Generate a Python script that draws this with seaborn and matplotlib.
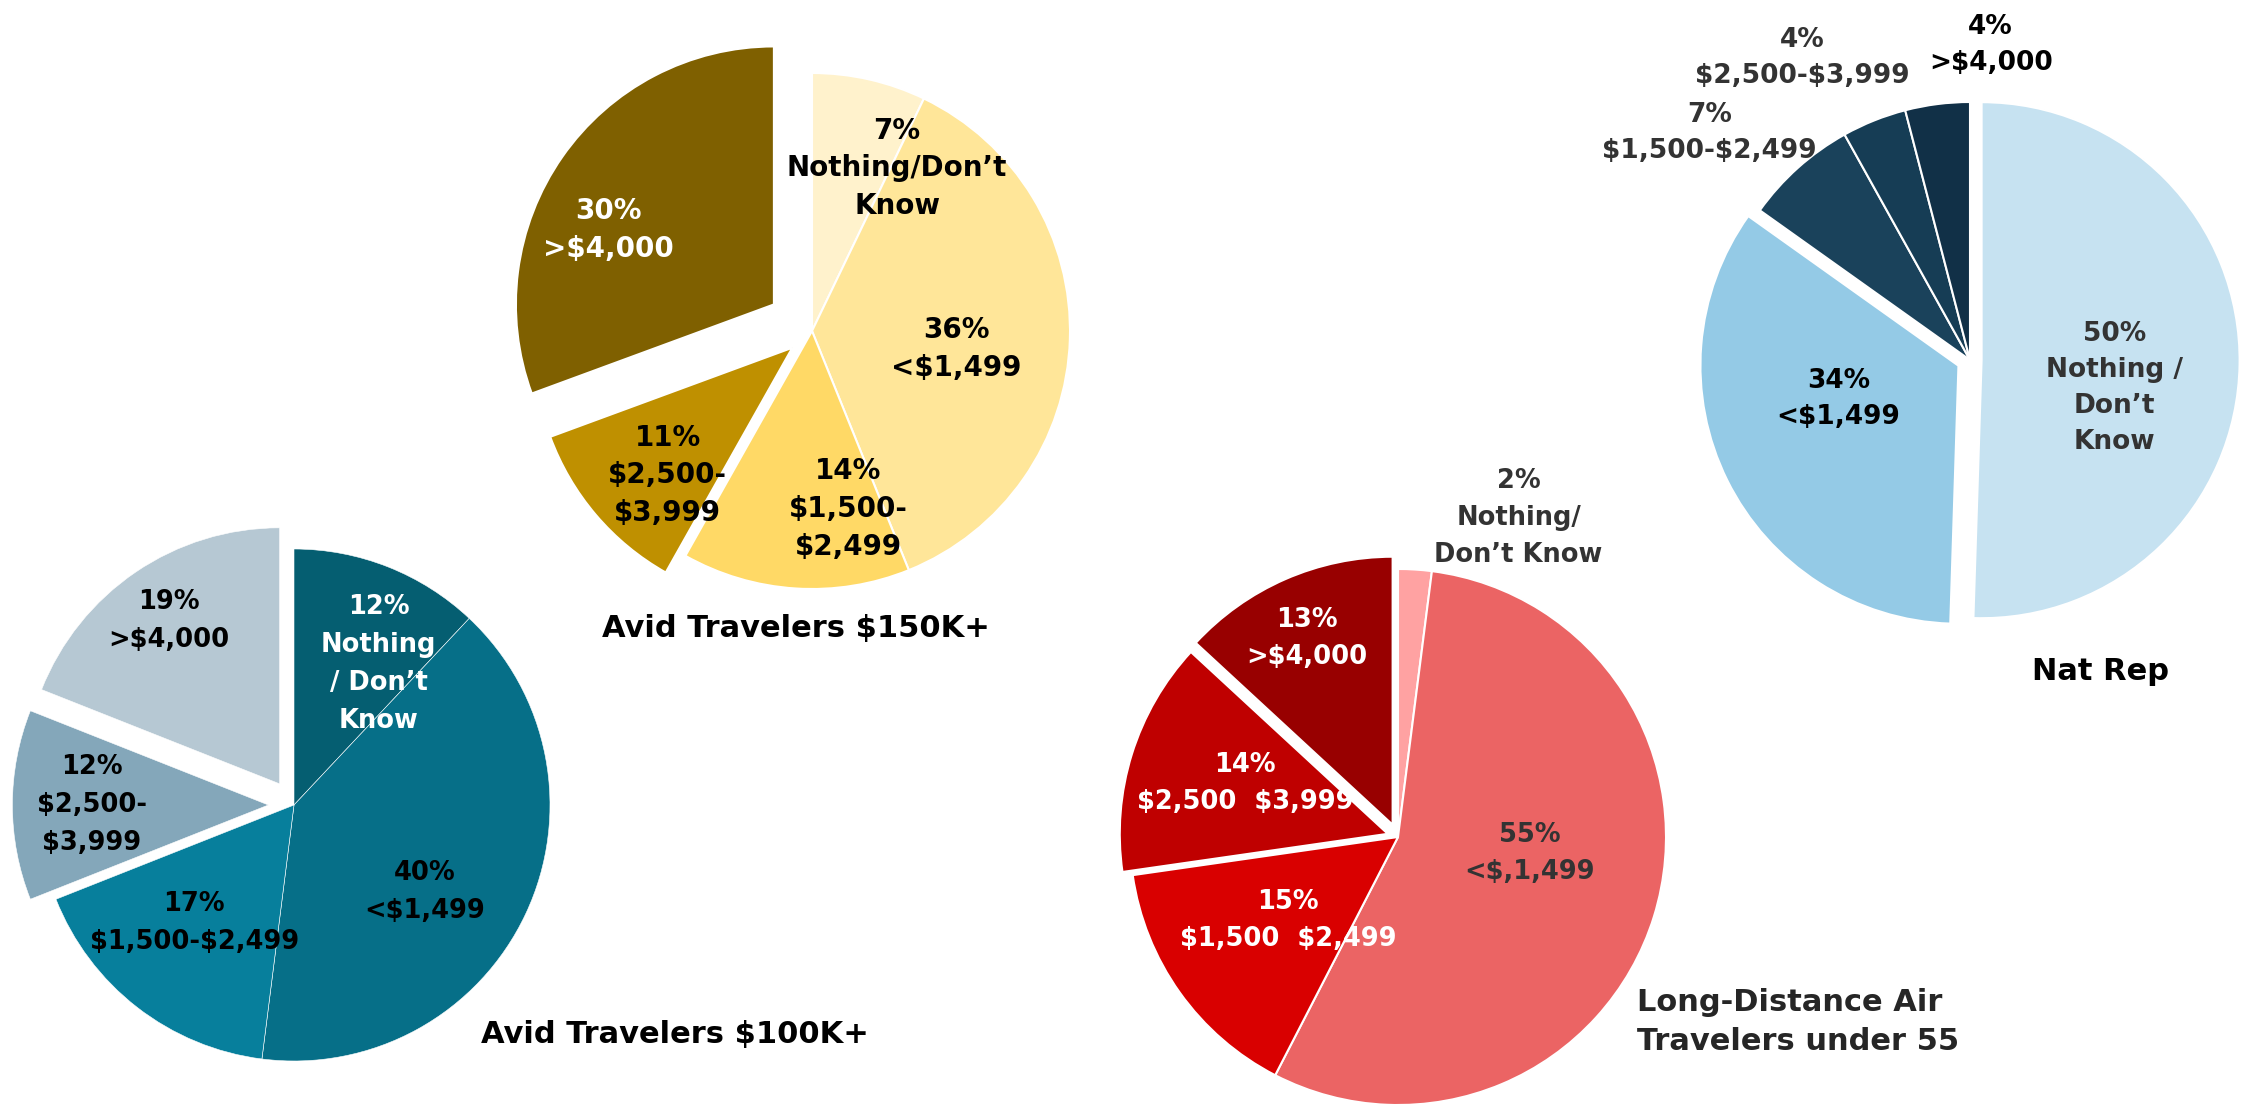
import seaborn as sns
import matplotlib.pyplot as plt

# ---- data (slices listed clockwise from 12 o'clock) ----
avid150_values = [7, 36, 14, 11, 30]
avid150_labels = ["7%\nNothing/Don\u2019t\nKnow", "36%\n<$1,499", "14%\n$1,500-\n$2,499",
                  "11%\n$2,500-\n$3,999", "30%\n>$4,000"]

avid100_values = [12, 40, 17, 12, 19]
avid100_labels = ["12%\nNothing\n/ Don\u2019t\nKnow", "40%\n<$1,499", "17%\n$1,500-$2,499",
                  "12%\n$2,500-\n$3,999", "19%\n>$4,000"]

air55_values = [2, 55, 15, 14, 13]
air55_labels = ["2%\nNothing/\nDon\u2019t Know", "55%\n<$,1,499", "15%\n$1,500  $2,499",
                "14%\n$2,500  $3,999", "13%\n>$4,000"]

natrep_values = [50, 34, 7, 4, 4]
natrep_labels = ["50%\nNothing /\nDon\u2019t\nKnow", "34%\n<$1,499", "7%\n$1,500-$2,499",
                 "4%\n$2,500-$3,999", "4%\n>$4,000"]

# ---- styling / layout (pixel coordinates, y from top) ----
W, H = 2247, 1105
pies = [
    dict(values=avid150_values, labels=avid150_labels, title="Avid Travelers $150K+",
         center=(812, 331), r=258, explode=[0, 0, 0, 0.10, 0.18],
         colors=["#FFF2CC", "#FFE699", "#FFD966", "#BF9000", "#7F6000"],
         tcolors=["black", "black", "black", "black", "white"],
         offsets=[(0.33, 0.63), (0.56, -0.07), (0.14, -0.69), (-0.56, -0.56), (-0.79, 0.39)],
         fs=20, ls=1.45, title_pos=(796, 629), title_ha="center", title_color="black", lw=1.5),
    dict(values=avid100_values, labels=avid100_labels, title="Avid Travelers $100K+",
         center=(294, 805), r=256, explode=[0, 0, 0, 0.10, 0.10],
         colors=["#055E71", "#066F88", "#077F9C", "#84A7BA", "#B6C8D3"],
         tcolors=["white", "black", "black", "black", "black"],
         offsets=[(0.33, 0.55), (0.51, -0.34), (-0.39, -0.46), (-0.79, 0.0), (-0.49, 0.72)],
         fs=18.5, ls=1.6, title_pos=(675, 1034), title_ha="center", title_color="black", lw=0.4),
    dict(values=air55_values, labels=air55_labels, title="Long-Distance Air\nTravelers under 55",
         center=(1398, 837), r=268, explode=[0, 0, 0, 0.04, 0.05],
         colors=["#FFA2A2", "#EB6464", "#D90000", "#BF0000", "#980000"],
         tcolors=["#333333", "#333333", "white", "white", "white"],
         offsets=[(0.45, 1.19), (0.49, -0.06), (-0.41, -0.31), (-0.57, 0.20), (-0.34, 0.74)],
         fs=18.5, ls=1.55, title_pos=(1637, 1022), title_ha="left", title_color="#262626", lw=1.5),
    dict(values=natrep_values, labels=natrep_labels, title="Nat Rep",
         center=(1970, 360), r=258, explode=[0.045, 0.05, 0, 0, 0],
         colors=["#C6E2F1", "#94CAE6", "#1A425B", "#163D55", "#113047"],
         tcolors=["#333333", "black", "#333333", "#333333", "black"],
         offsets=[(0.56, -0.11), (-0.51, -0.15), (-1.01, 0.88), (-0.65, 1.17), (0.08, 1.22)],
         fs=19, ls=1.5, title_pos=(2101, 672), title_ha="center", title_color="black", lw=1.5),
]

sns.set_theme(style="white")
plt.rcParams['font.family'] = ['DejaVu Sans']

fig = plt.figure(figsize=(W / 100, H / 100), dpi=100)
fig.set_facecolor("white")
ax = fig.add_axes([0, 0, 1, 1])

for p in pies:
    cx, cy = p["center"][0], H - p["center"][1]
    r = p["r"]
    ax.pie(p["values"], colors=p["colors"], startangle=90, counterclock=False,
           center=(cx, cy), radius=r, explode=[e * r for e in p["explode"]],
           wedgeprops=dict(edgecolor="white", linewidth=p["lw"]))
    for lab, tc, (dx, dy) in zip(p["labels"], p["tcolors"], p["offsets"]):
        ax.text(cx + dx * r, cy + dy * r, lab, ha="center", va="center",
                multialignment="center", color=tc, fontsize=p["fs"], fontweight="bold",
                linespacing=p["ls"], parse_math=False)
    tx, ty = p["title_pos"]
    ax.text(tx, H - ty, p["title"], ha=p["title_ha"], va="center", color=p["title_color"],
            fontsize=22, fontweight="bold", linespacing=1.4, parse_math=False)

ax.set_xlim(0, W)
ax.set_ylim(0, H)
ax.set_aspect("equal")
ax.axis("off")

fig.savefig("out.png", dpi=100, facecolor="white")
